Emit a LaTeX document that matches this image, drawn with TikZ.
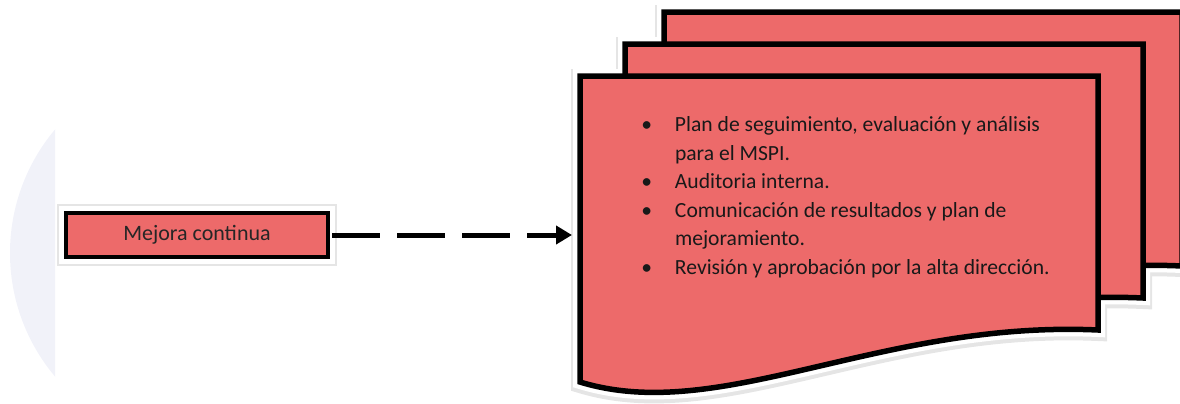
\documentclass[tikz,border=0pt]{standalone}
\usepackage{fontspec}
\setmainfont{Carlito}
\usetikzlibrary{arrows.meta}
\definecolor{sheetred}{RGB}{237,106,106}
\definecolor{haze}{RGB}{241,242,249}
\def\docsheet[#1](#2){\draw[#1, shift={(#2)}] (0,0) -- (518,0) -- (518,254) .. controls (300,244) and (140,349) .. (0,306) -- cycle;}

\begin{document}
\begin{tikzpicture}[x=0.5pt, y=-0.5pt,
    smallbox/.style={draw=black, line width=2pt, fill=sheetred, text=black!85,
      minimum width=131pt, minimum height=22pt, inner sep=0pt,
      font=\fontsize{11}{13}\selectfont,
      preaction={draw=black!10, line width=9pt},
      preaction={draw=white, line width=7pt}},
    dasharrow/.style={line width=2.5pt, dash pattern=on 24pt off 8.5pt,
      -{Triangle[length=8pt, width=9pt]}}]
			%%%%% START %%%%%
			\useasboundingbox (0,0) rectangle (1180,403);
			
			\begin{scope}
				\clip (0,0) rectangle (55,403);
				\fill[haze] (202,253) circle (192);
			\end{scope}
			
			\docsheet[line width=9pt, color=black!10, fill=black!10](664,14);
			\docsheet[line width=9pt, color=black!10, fill=black!10](625,46);
			\docsheet[line width=9pt, color=black!10, fill=black!10](580,78);
			\docsheet[line width=7pt, color=white, fill=white](664,12);
			\docsheet[line width=7pt, color=white, fill=white](625,44);
			\docsheet[line width=7pt, color=white, fill=white](580,76);
			
			\docsheet[line width=2.75pt, draw=black, fill=sheetred](664,12);
			\docsheet[line width=2.75pt, draw=black, fill=sheetred](625,44);
			\docsheet[line width=2.75pt, draw=black, fill=sheetred](580,76);
			
			\node[anchor=north west, inner sep=0pt, text=black!90,
			  font=\fontsize{10.8}{14.3}\selectfont] (points) at (641,111) {%
				\begin{tabular}{@{}p{16.8pt}@{}l@{}}
					\textbullet & Plan de seguimiento, evaluación y análisis\\
					& para el MSPI.\\
					\textbullet & Auditoria interna.\\
					\textbullet & Comunicación de resultados y plan de\\
					& mejoramiento.\\
					\textbullet & Revisión y aprobación por la alta dirección.
				\end{tabular}};
			
			\node[smallbox] (mejora) at (197,235) {Mejora continua};
			\coordinate (pagein) at (572,233);
			
			\draw[dasharrow, shorten <=1pt] (mejora.east) -- (mejora.east -| pagein);
			
			%%%%% END %%%%%
		\end{tikzpicture}
\end{document}
